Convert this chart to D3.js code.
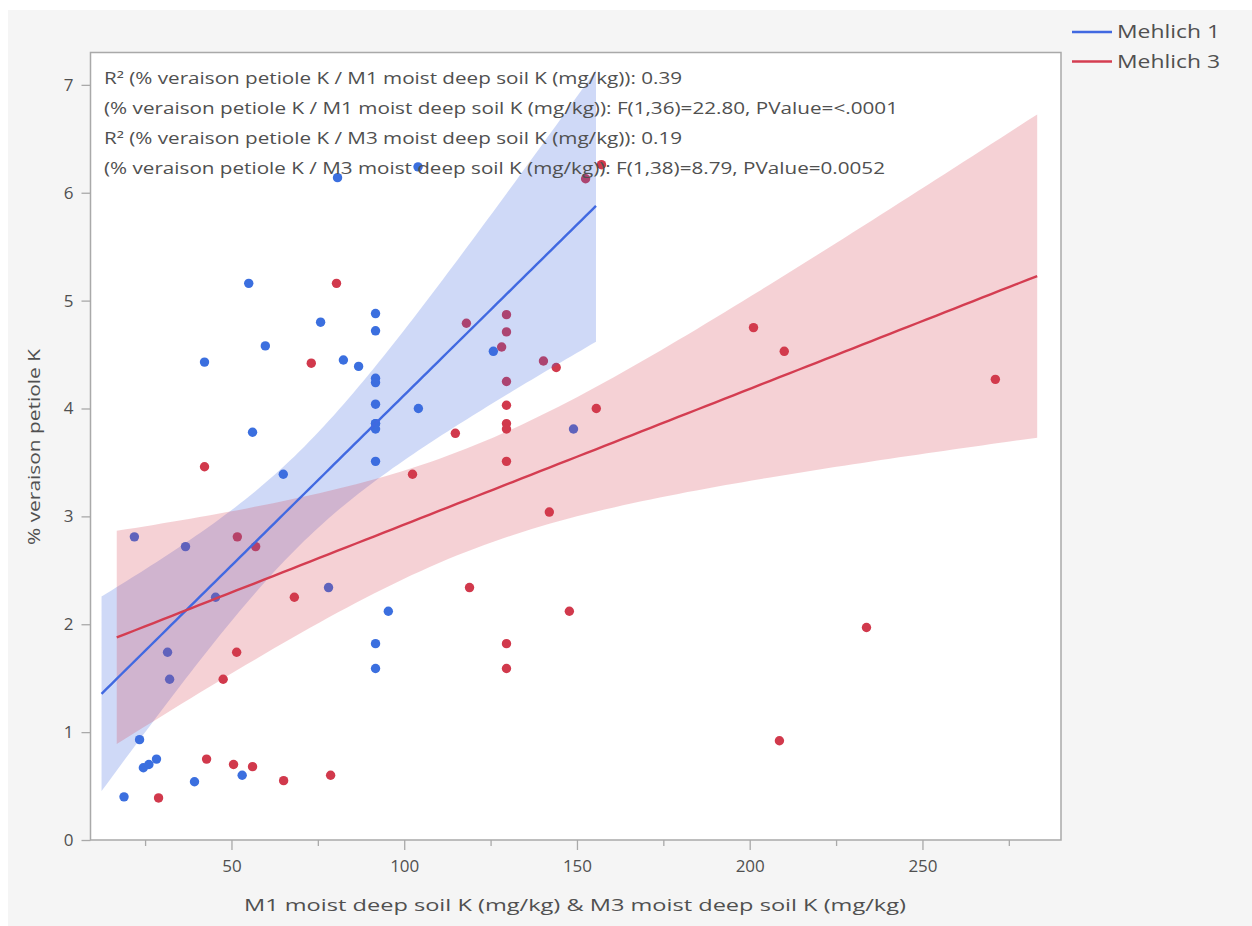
<!DOCTYPE html>
<html><head><meta charset="utf-8">
<script src="https://cdn.jsdelivr.net/npm/d3@7"></script>
<style>html,body{margin:0;padding:0;background:#fff;}svg{display:block;}</style>
</head><body>
<svg id="chart" width="1252" height="926"></svg>
<script>
// ---- data ----
const m1X = [55,75.8,59.8,42.2,82.4,86.8,91.7,91.7,91.7,91.7,91.7,91.7,91.7,91.7,104.1,56.1,65.0,36.7,21.9,45.4,78.1,95.4,91.7,91.7,31.5,32.1,23.4,24.5,26.1,28.3,18.9,39.3,53.1,125.8,149,80.7,104,91.7];
const m1Y = [5.16,4.80,4.58,4.43,4.45,4.39,4.88,4.72,4.28,4.24,4.04,3.86,3.81,3.51,4.00,3.78,3.39,2.72,2.81,2.25,2.34,2.12,1.82,1.59,1.74,1.49,0.93,0.67,0.70,0.75,0.40,0.54,0.60,4.53,3.81,6.14,6.24,3.86];
const m3X = [80.4,73.1,42.2,102.4,51.7,57,68.2,51.5,47.6,42.8,50.6,56.1,65.1,78.7,28.9,118,129.6,129.6,128.2,140.3,144,129.6,129.6,129.6,129.6,114.8,155.6,129.6,142,201.1,210,271.1,233.8,118.9,147.8,129.6,129.6,208.6,152.5,157.1];
const m3Y = [5.16,4.42,3.46,3.39,2.81,2.72,2.25,1.74,1.49,0.75,0.70,0.68,0.55,0.60,0.39,4.79,4.87,4.71,4.57,4.44,4.38,4.25,4.03,3.86,3.81,3.77,4.00,3.51,3.04,4.75,4.53,4.27,1.97,2.34,2.12,1.82,1.59,0.92,6.13,6.26];
const seriesNames = ["Mehlich 1","Mehlich 3"];
const xTicks = [50,100,150,200,250];
const xMinorTicks = [25,75,125,175,225,275];
const yTicks = [0,1,2,3,4,5,6,7];
const statLines = [
  "R² (% veraison petiole K / M1 moist deep soil K (mg/kg)): 0.39",
  "(% veraison petiole K / M1 moist deep soil K (mg/kg)): F(1,36)=22.80, PValue=<.0001",
  "R² (% veraison petiole K / M3 moist deep soil K (mg/kg)): 0.19",
  "(% veraison petiole K / M3 moist deep soil K (mg/kg)): F(1,38)=8.79, PValue=0.0052"
];
const xTitle = "M1 moist deep soil K (mg/kg) & M3 moist deep soil K (mg/kg)";
const yTitle = "% veraison petiole K";

// ---- layout ----
const L = 90.5, R = 1061, T = 52.5, B = 840;
const svg = d3.select("#chart");
const x = d3.scaleLinear().domain([9.2, 290.1]).range([L, R]);
const y = d3.scaleLinear().domain([0, 7.30]).range([B, T]);
const colors = {pt:["#3b6fdf","#d1394c"], line:["#4169e1","#d43d51"], band:["rgba(65,105,225,0.25)","rgba(212,61,81,0.24)"]};

svg.append("rect").attr("x",8).attr("y",10).attr("width",1244).attr("height",916).attr("fill","#f5f5f5");
svg.append("rect").attr("x",L).attr("y",T).attr("width",R-L).attr("height",B-T).attr("fill","#fff");

const plot = svg.append("g");
svg.append("clipPath").attr("id","clp").append("rect").attr("x",L).attr("y",T).attr("width",R-L).attr("height",B-T);
plot.attr("clip-path","url(#clp)");

// regression with 95% mean confidence band
function tq(df){const z=1.959964;return z+(z**3+z)/(4*df)+(5*z**5+16*z**3+3*z)/(96*df*df);}
function fit(xs, ys){
  const n=xs.length, mx=d3.mean(xs), my=d3.mean(ys);
  let sxx=0,sxy=0; xs.forEach((v,i)=>{sxx+=(v-mx)**2; sxy+=(v-mx)*(ys[i]-my);});
  const b=sxy/sxx, a=my-b*mx;
  let sse=0; xs.forEach((v,i)=>{sse+=(ys[i]-a-b*v)**2;});
  const s=Math.sqrt(sse/(n-2)), t=tq(n-2);
  const lo=d3.min(xs), hi=d3.max(xs), ext=(hi-lo)*0.05;
  return d3.range(0,101).map(k=>{const xv=lo-ext+(hi-lo+2*ext)*k/100;const yh=a+b*xv;const h=t*s*Math.sqrt(1/n+(xv-mx)**2/sxx);return {x:xv,y:yh,lo:yh-h,hi:yh+h};});
}
const sets = [[m1X,m1Y],[m3X,m3Y]];
sets.forEach(([xs,ys],si)=>{
  plot.append("g").selectAll("circle").data(xs.map((v,i)=>[v,ys[i]])).join("circle")
    .attr("cx",d=>x(d[0])).attr("cy",d=>y(d[1])).attr("r",4.7).attr("fill",colors.pt[si]);
});
const fits = sets.map(([xs,ys])=>fit(xs,ys));
fits.forEach((f,si)=>{
  plot.append("path").datum(f).attr("fill",colors.band[si])
    .attr("d",d3.area().x(d=>x(d.x)).y0(d=>y(d.lo)).y1(d=>y(d.hi)));
});
fits.forEach((f,si)=>{
  plot.append("path").datum(f).attr("fill","none").attr("stroke",colors.line[si]).attr("stroke-width",2.4)
    .attr("d",d3.line().x(d=>x(d.x)).y(d=>y(d.y)));
});

// frame
svg.append("rect").attr("x",L).attr("y",T).attr("width",R-L).attr("height",B-T).attr("fill","none").attr("stroke","#a9a9a9").attr("stroke-width",1.5);

// axes
const font = "'Open Sans', 'Noto Sans', sans-serif";
const xAxis = svg.append("g").attr("transform",`translate(0,${B})`)
  .call(d3.axisBottom(x).tickValues(xTicks).tickSize(10).tickPadding(10));
const xMinor = svg.append("g").attr("transform",`translate(0,${B})`)
  .call(d3.axisBottom(x).tickValues(xMinorTicks).tickSize(6).tickFormat(""));
const yAxis = svg.append("g").attr("transform",`translate(${L},0)`)
  .call(d3.axisLeft(y).tickValues(yTicks).tickSize(9).tickPadding(8));
[xAxis,xMinor,yAxis].forEach(g=>{
  g.select(".domain").remove();
  g.selectAll(".tick line").attr("stroke","#a9a9a9").attr("stroke-width",1.3);
  g.selectAll(".tick text").attr("fill","#505050").style("font-family",font).style("font-size","17px");
});

// annotations
const widths=[578,794,578,781];
statLines.forEach((s,i)=>{
  svg.append("text").attr("x",104).attr("y",84+i*30).text(s)
    .attr("fill","#505050").style("font-family",font).style("font-size","15.5px")
    .attr("textLength",widths[i]).attr("lengthAdjust","spacingAndGlyphs");
});

// axis titles
svg.append("text").attr("x",575).attr("y",911).attr("text-anchor","middle").text(xTitle)
  .attr("fill","#505050").style("font-family",font).style("font-size","17px")
  .attr("textLength",662).attr("lengthAdjust","spacingAndGlyphs");
svg.append("text").attr("transform","translate(40,447) rotate(-90)").attr("text-anchor","middle").text(yTitle)
  .attr("fill","#505050").style("font-family",font).style("font-size","16px")
  .attr("textLength",196).attr("lengthAdjust","spacingAndGlyphs");

// legend
seriesNames.forEach((n,i)=>{
  const ly = 32 + i*29.5;
  svg.append("line").attr("x1",1072).attr("x2",1112).attr("y1",ly).attr("y2",ly).attr("stroke",colors.line[i]).attr("stroke-width",2.5);
  svg.append("text").attr("x",1117).attr("y",ly+6).text(n).attr("fill","#505050")
    .style("font-family",font).style("font-size","18px").attr("textLength",103).attr("lengthAdjust","spacingAndGlyphs");
});
</script>
</body></html>
